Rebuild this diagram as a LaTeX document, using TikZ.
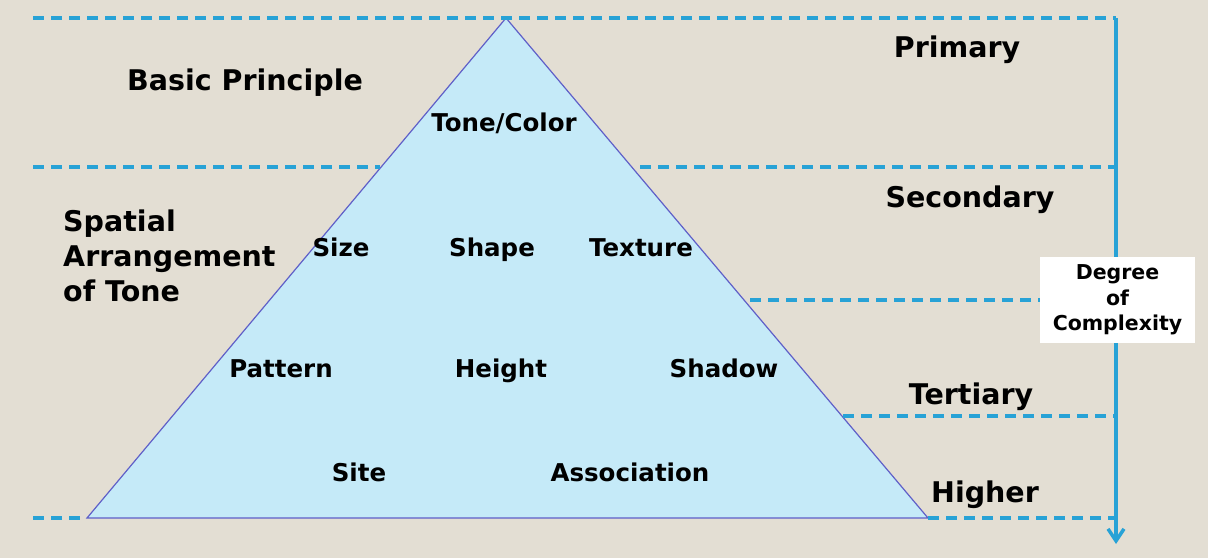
\documentclass[tikz,border=0pt]{standalone}
\usepackage{fontspec}
\setmainfont{DejaVu Sans}
\usetikzlibrary{arrows.meta}
\definecolor{bg}{RGB}{227,222,211}
\definecolor{tri}{RGB}{197,234,248}
\definecolor{edge}{RGB}{95,95,200}
\definecolor{dash}{RGB}{40,162,214}
\tikzset{
  dashline/.style={draw=dash, line width=3.5pt, dash pattern=on 11pt off 7pt},
  big/.style={font=\fontsize{28.5}{34}\selectfont\bfseries, inner sep=0pt, anchor=base},
  mid/.style={font=\fontsize{24.5}{30}\selectfont\bfseries, inner sep=0pt, anchor=base},
  small/.style={font=\fontsize{20.5}{25.5}\selectfont\bfseries, align=center},
}
\begin{document}
\begin{tikzpicture}[x=1pt,y=-1pt]
\useasboundingbox (0,0) rectangle (1208,558);
\fill[bg] (0,0) rectangle (1208,558);
% triangle
\coordinate (apex) at (506,18);
\coordinate (bl) at (87,518);
\coordinate (br) at (928,518);
\filldraw[fill=tri, draw=edge, line width=1.2pt] (apex) -- (bl) -- (br) -- cycle;
% axis coordinates
\coordinate (ltop) at (33,18);
\coordinate (rtop) at (1116,18);
\coordinate (l2) at (33,167);
\coordinate (t2a) at (380,167);
\coordinate (t2b) at (640,167);
\coordinate (r2) at (1116,167);
\coordinate (t3) at (750,300);
\coordinate (t4) at (843,416);
\coordinate (r4) at (1116,416);
\coordinate (l5) at (33,518);
\coordinate (r5) at (1116,518);
\coordinate (aend) at (1116,544);
% dashed lines
\draw[dashline] (ltop) -- (rtop);
\draw[dashline] (l2) -- (t2a);
\draw[dashline] (t2b) -- (r2);
\draw[dashline] (t4) -- (r4);
\draw[dashline] (l5) -- (bl);
\draw[dashline] (br) -- (r5);
% arrow
\draw[draw=dash, line width=3.5pt, -{Straight Barb[length=12pt,width=16pt,line width=3.5pt]}] (rtop) -- (aend);
% box
\node[small, fill=white, minimum width=155pt, minimum height=86pt, inner sep=0pt] (box) at (1117.5,300) {Degree\\of\\Complexity};
\draw[dashline] (t3) -- (box.west);
% level labels
\node[big] (prim) at (957,57) {Primary};
\node[big] (sec) at (970,207) {Secondary};
\node[big] (ter) at (971,404) {Tertiary};
\node[big] (hig) at (985,502) {Higher};
\node[big] (basic) at (245,90) {Basic Principle};
\node[big, anchor=base west] (sp1) at (63,231) {Spatial};
\node[big, anchor=base west] (sp2) at (63,266) {Arrangement};
\node[big, anchor=base west] (sp3) at (63,301) {of Tone};
% elements
\node[mid] (tone) at (504,131) {Tone/Color};
\node[mid] (size) at (341,256) {Size};
\node[mid] (shape) at (492,256) {Shape};
\node[mid] (texture) at (641,256) {Texture};
\node[mid] (pattern) at (281,377) {Pattern};
\node[mid] (height) at (501,377) {Height};
\node[mid] (shadow) at (724,377) {Shadow};
\node[mid] (site) at (359,481) {Site};
\node[mid] (assoc) at (630,481) {Association};
\end{tikzpicture}
\end{document}
